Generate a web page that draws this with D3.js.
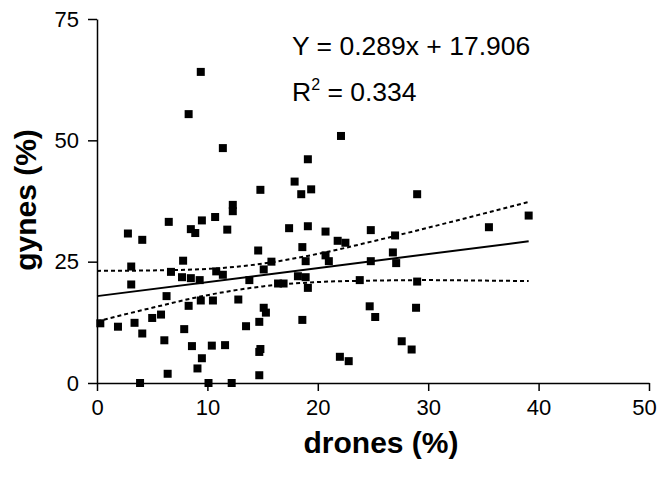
<!DOCTYPE html>
<html>
<head>
<meta charset="utf-8">
<script src="https://cdn.jsdelivr.net/npm/d3@7"></script>
<style>
  body { margin: 0; background: #fff; }
  text { font-family: "Liberation Sans", Arial, Helvetica, sans-serif; fill: #000; }
</style>
</head>
<body>
<div id="chart"></div>
<script>
// percentages
const drones = [
  9.4, 8.3, 11.4, 14.8, 22.1, 19.1, 17.9, 18.5, 19.4, 29.0,
  12.3, 12.3, 10.7, 9.5, 6.5, 8.5, 8.9, 11.8, 2.8, 4.1,
  14.6, 7.8, 15.8, 3.1, 6.7, 15.1, 10.8, 11.4, 7.7, 8.5,
  9.3, 13.8, 16.4, 3.1, 6.3, 9.4, 10.5, 12.8, 8.3, 15.1,
  15.3, 5.8, 5.0, 14.7, 0.3, 3.4, 1.9, 13.5, 7.9, 4.1,
  6.1, 8.6, 10.4, 11.6, 14.8, 14.7, 9.5, 9.1, 6.4, 14.7,
  3.9, 10.1, 12.2,
  39.1, 35.5, 17.4, 19.1, 20.7, 24.8, 27.0, 18.6, 21.8, 22.5,
  18.9, 20.7, 21.0, 26.8, 27.1, 24.8, 18.2, 18.9, 19.1, 16.9,
  23.8, 29.0, 24.7, 28.9, 25.2, 18.6, 27.6, 28.5, 22.0, 22.8
];
const gynes = [
  64.1, 55.4, 48.4, 39.8, 50.9, 46.1, 41.5, 38.9, 39.9, 38.9,
  36.7, 35.4, 34.2, 33.5, 33.2, 31.7, 30.9, 31.6, 30.8, 29.5,
  27.3, 25.2, 25.0, 24.0, 22.9, 23.4, 23.0, 22.3, 21.8, 21.6,
  21.2, 21.2, 20.5, 20.3, 17.9, 17.0, 17.0, 17.2, 15.9, 15.5,
  14.5, 14.1, 13.4, 12.6, 12.3, 12.4, 11.6, 11.7, 11.1, 10.2,
  8.8, 7.6, 7.7, 7.8, 7.0, 6.4, 5.1, 3.0, 1.9, 1.6,
  0, 0, 0,
  34.5, 32.1, 31.9, 32.3, 31.2, 31.5, 30.4, 28.0, 29.3, 28.9,
  25.1, 26.3, 25.1, 26.9, 24.7, 25.1, 22.0, 21.8, 19.6, 20.5,
  21.2, 20.9, 15.8, 15.5, 13.6, 13.0, 8.6, 6.9, 5.4, 4.5
];

// regression line Y = 0.289x + 17.906, end points
const fitX = [0, 39.1];
const fitY = [17.9, 29.2];

// dotted confidence band, read at these drone values
const bandX = [0, 5, 10, 15, 20, 25, 30, 35, 39.1];
const bandUpper = [23.1, 23.2, 23.5, 24.6, 26.6, 29.2, 32.0, 34.9, 37.3];
const bandLower = [12.7, 15.5, 18.1, 19.9, 20.8, 21.1, 21.2, 21.1, 21.0];

const xTicks = [0, 10, 20, 30, 40, 50];
const yTicks = [0, 25, 50, 75];

const width = 658, height = 477;
const margin = {top: 19, right: 9, bottom: 94, left: 97};

const svg = d3.select("#chart").append("svg")
  .attr("width", width)
  .attr("height", height);

const x = d3.scaleLinear().domain([0, 50]).range([margin.left, width - margin.right]);
const y = d3.scaleLinear().domain([0, 75]).range([height - margin.bottom, margin.top]);

// axes
const xAxis = d3.axisBottom(x).tickValues(xTicks).tickSize(8).tickSizeOuter(0).tickPadding(8);
const yAxis = d3.axisLeft(y).tickValues(yTicks).tickSize(9).tickSizeOuter(0).tickPadding(9);

const gx = svg.append("g")
  .attr("transform", `translate(0,${y(0)})`)
  .call(xAxis);
const gy = svg.append("g")
  .attr("transform", `translate(${x(0)},0)`)
  .call(yAxis);

[gx, gy].forEach(g => {
  g.selectAll("path, line").attr("stroke", "#000").attr("stroke-width", 1.5);
  g.selectAll("text").style("font-size", "22px").attr("fill", "#000");
});
// keep the last label inside the frame
gx.selectAll(".tick text").filter(d => d === 50).attr("dx", -5);

// points
svg.append("g")
  .selectAll("rect")
  .data(drones.map((d, i) => [d, gynes[i]]))
  .join("rect")
  .attr("x", d => x(d[0]) - 4)
  .attr("y", d => y(d[1]) - 4)
  .attr("width", 8)
  .attr("height", 8)
  .attr("fill", "#000");

// fit line and band
const line = d3.line().x(d => x(d[0])).y(d => y(d[1]));
const curved = d3.line().x(d => x(d[0])).y(d => y(d[1])).curve(d3.curveMonotoneX);

svg.append("path")
  .attr("d", line(fitX.map((d, i) => [d, fitY[i]])))
  .attr("fill", "none")
  .attr("stroke", "#000")
  .attr("stroke-width", 2);

[bandUpper, bandLower].forEach(band => {
  svg.append("path")
    .attr("d", curved(bandX.map((d, i) => [d, band[i]])))
    .attr("fill", "none")
    .attr("stroke", "#000")
    .attr("stroke-width", 2)
    .attr("stroke-dasharray", "4,3");
});

// equation
svg.append("text")
  .attr("x", 292)
  .attr("y", 55)
  .style("font-size", "26.5px")
  .text("Y = 0.289x + 17.906");

const r2 = svg.append("text")
  .attr("x", 292)
  .attr("y", 101)
  .style("font-size", "26.5px");
r2.append("tspan").text("R");
r2.append("tspan").attr("dy", -11).style("font-size", "16px").text("2");
r2.append("tspan").attr("dy", 11).text(" = 0.334");

// axis titles
svg.append("text")
  .attr("x", (x(0) + x(50)) / 2 + 8)
  .attr("y", 453)
  .attr("text-anchor", "middle")
  .style("font-size", "30px")
  .style("font-weight", "bold")
  .text("drones (%)");

svg.append("text")
  .attr("transform", `translate(36,200) rotate(-90)`)
  .attr("text-anchor", "middle")
  .style("font-size", "30px")
  .style("font-weight", "bold")
  .text("gynes (%)");
</script>
</body>
</html>
